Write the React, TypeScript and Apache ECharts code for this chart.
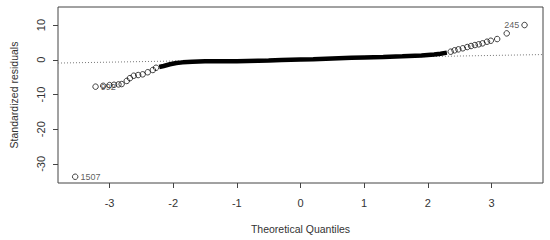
import React, { useEffect, useRef } from "react";
import * as echarts from "echarts";

// Theoretical quantile axis ticks and residual axis ticks
const xTicks = [-3, -2, -1, 0, 1, 2, 3];
const yTicks = [-30, -20, -10, 0, 10];

// Dense central band (thousands of overlapping points)
const bandX = [-2.22, -2.15, -2.05, -1.95, -1.85, -1.7, -1.5, -1.0, -0.5, -0.3, 0, 0.2, 0.5, 0.8, 1.0, 1.3, 1.6, 1.9, 2.1, 2.2, 2.3];
const bandY = [-2.1, -1.8, -1.3, -0.95, -0.75, -0.55, -0.45, -0.4, -0.2, -0.1, 0.05, 0.15, 0.35, 0.55, 0.65, 0.8, 1.0, 1.25, 1.5, 1.75, 2.05];

// Lower tail points
const lowX = [-3.1, -3.0, -2.93, -2.86, -2.81, -2.73, -2.68, -2.62, -2.55, -2.48, -2.4, -2.32, -2.27];
const lowY = [-7.5, -7.3, -7.2, -7.1, -7.0, -6.1, -5.3, -4.6, -4.4, -4.2, -3.6, -2.95, -2.3];

// Upper tail points
const highX = [2.36, 2.42, 2.48, 2.55, 2.62, 2.68, 2.74, 2.8, 2.86, 2.93, 2.99, 3.09, 3.24];
const highY = [2.32, 2.72, 3.0, 3.3, 3.67, 3.96, 4.24, 4.45, 4.73, 5.2, 5.48, 5.97, 7.6];

// Labelled outliers
const outlierX = [-3.54, -3.22, 3.52];
const outlierY = [-33.7, -7.75, 10.0];
const outlierLabel = ["1507", "992", "245"];
const outlierSide = ["right", "right", "left"];

// Reference (qq) line end points
const qqLineX = [-3.81, 3.81];
const qqLineY = [-0.95, 1.5];

const X_MIN = -3.81;
const X_MAX = 3.81;
const Y_MIN = -35.5;
const Y_MAX = 15.2;

const FONT = "'Liberation Sans', Arial, sans-serif";
const TEXT = "#333";

export default function App() {
  const ref = useRef<HTMLDivElement>(null);
  useEffect(() => {
    if (!ref.current) return;
    const chart = echarts.init(ref.current, null, { renderer: "svg" });
    const circleStyle = {
      color: "rgba(0,0,0,0)",
      borderColor: "#111",
      borderWidth: 1,
    };
    chart.setOption({
      animation: false,
      backgroundColor: "#fff",
      grid: {
        left: 53,
        right: 7,
        top: 7,
        bottom: 57,
        show: true,
        borderColor: "#444",
        borderWidth: 1,
        backgroundColor: "transparent",
      },
      xAxis: {
        type: "value",
        min: X_MIN,
        max: X_MAX,
        name: "Theoretical Quantiles",
        nameLocation: "middle",
        nameGap: 40,
        nameTextStyle: { fontFamily: FONT, fontSize: 10.5, color: TEXT },
        axisLine: { show: false, onZero: false },
        splitLine: { show: false },
        axisTick: {
          show: true,
          inside: false,
          length: 5,
          lineStyle: { color: "#444" },
          customValues: xTicks,
        },
        axisLabel: {
          margin: 14,
          fontFamily: FONT,
          fontSize: 11,
          color: TEXT,
          customValues: xTicks,
          formatter: (v: number) => String(v),
        },
      },
      yAxis: {
        type: "value",
        min: Y_MIN,
        max: Y_MAX,
        name: "Standardized residuals",
        nameLocation: "middle",
        nameGap: 39,
        nameTextStyle: { fontFamily: FONT, fontSize: 10.5, color: TEXT },
        axisLine: { show: false, onZero: false },
        splitLine: { show: false },
        axisTick: {
          show: true,
          inside: false,
          length: 5,
          lineStyle: { color: "#444" },
          customValues: yTicks,
        },
        axisLabel: {
          margin: 12,
          rotate: 90,
          fontFamily: FONT,
          fontSize: 11,
          color: TEXT,
          customValues: yTicks,
          formatter: (v: number) => String(v),
        },
      },
      series: [
        {
          type: "line",
          name: "qqline",
          data: qqLineX.map((x, i) => [x, qqLineY[i]]),
          symbol: "none",
          lineStyle: { color: "#777", width: 1, type: [1, 2] },
          z: 1,
        },
        {
          type: "line",
          name: "dense",
          data: bandX.map((x, i) => [x, bandY[i]]),
          symbol: "none",
          lineStyle: { color: "#000", width: 4.5 },
          z: 3,
        },
        {
          type: "scatter",
          name: "tails",
          data: [
            ...lowX.map((x, i) => [x, lowY[i]]),
            ...highX.map((x, i) => [x, highY[i]]),
          ],
          symbol: "circle",
          symbolSize: 5.5,
          itemStyle: circleStyle,
          z: 4,
        },
        {
          type: "scatter",
          name: "outliers",
          data: outlierX.map((x, i) => ({
            value: [x, outlierY[i]],
            label: {
              show: true,
              formatter: outlierLabel[i],
              position: outlierSide[i],
              distance: 2,
              fontFamily: FONT,
              fontSize: 9,
              color: TEXT,
            },
          })),
          symbol: "circle",
          symbolSize: 5.5,
          itemStyle: circleStyle,
          z: 5,
        },
      ],
    });
    return () => chart.dispose();
  }, []);
  return (
    <div
      ref={ref}
      style={{ position: "fixed", left: 0, top: 0, width: 550, height: 240, background: "#fff" }}
    />
  );
}
